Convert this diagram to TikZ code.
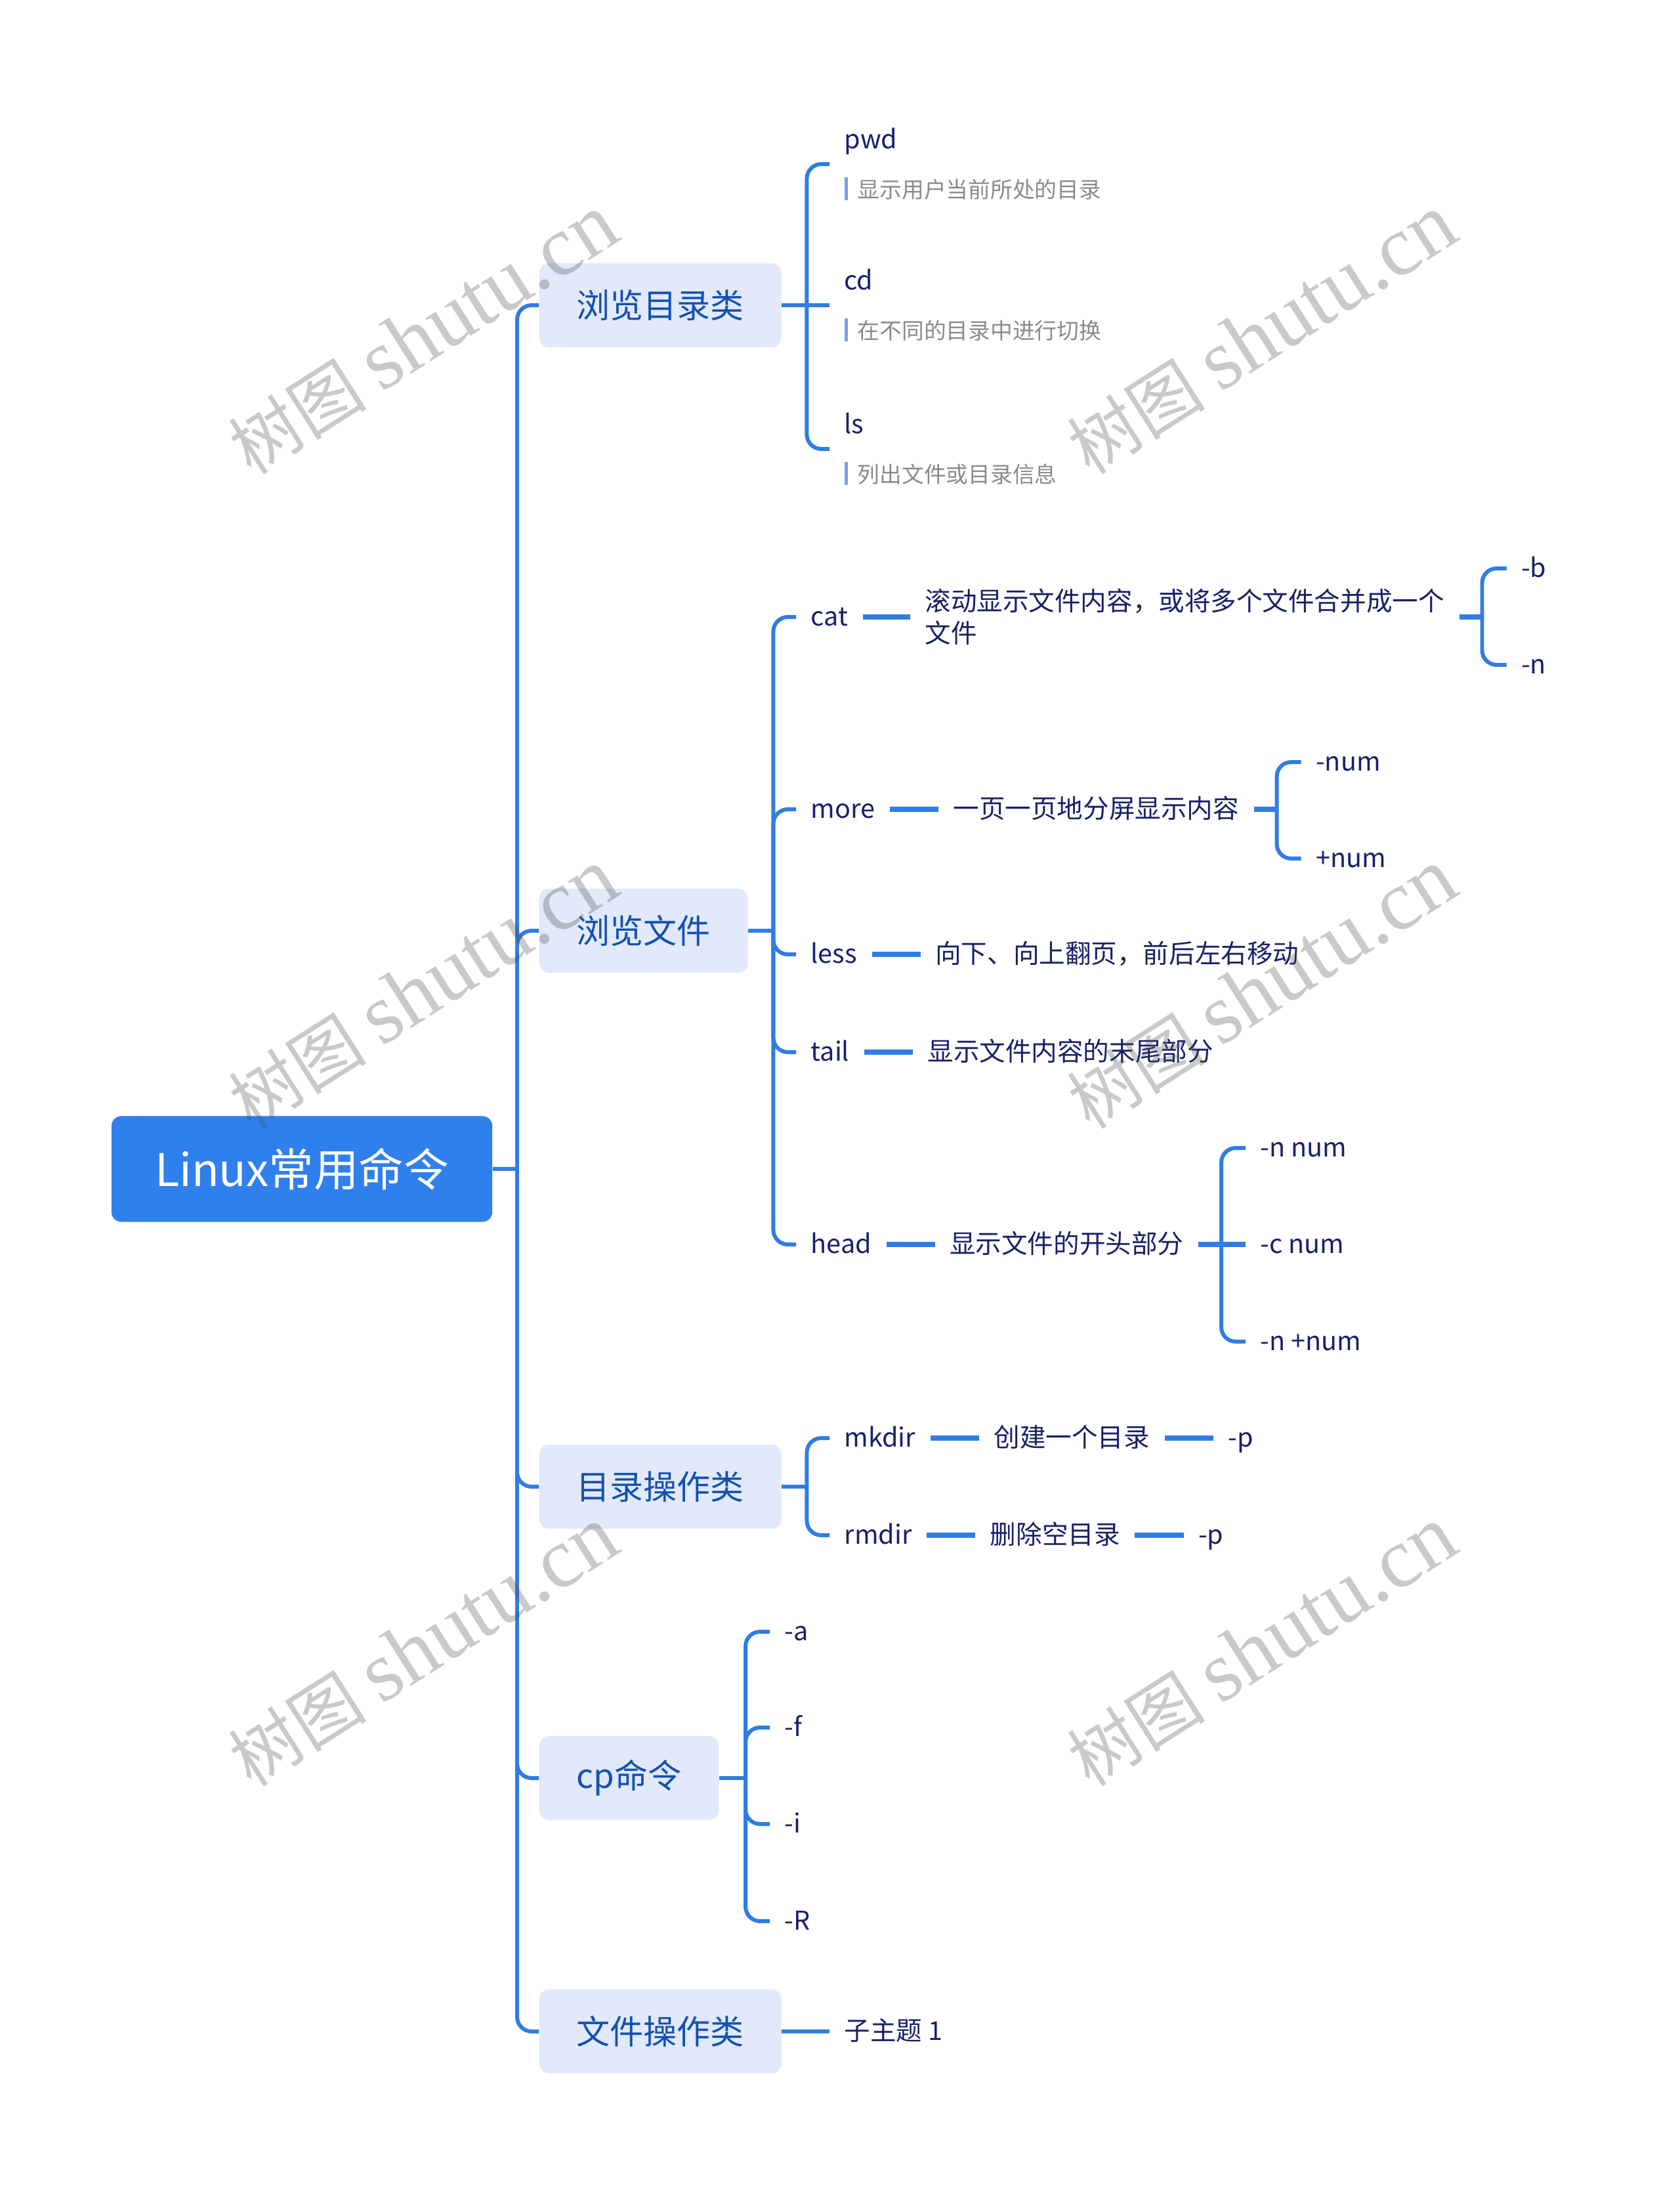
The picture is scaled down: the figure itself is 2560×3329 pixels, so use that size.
\documentclass[tikz,border=0pt]{standalone}
\usepackage{fontspec}
\setmainfont{Noto Sans CJK SC}
\newfontfamily\wmserif{Liberation Serif}
\usetikzlibrary{positioning,calc}
\definecolor{linkblue}{RGB}{48,124,228}
\definecolor{rootblue}{RGB}{47,128,237}
\definecolor{topicbg}{RGB}{225,233,250}
\definecolor{topictext}{RGB}{20,80,178}
\definecolor{leaftext}{RGB}{24,32,104}
\definecolor{notegray}{RGB}{138,138,138}
\definecolor{notebar}{RGB}{128,160,228}
\newcommand{\notetxt}[1]{{\fontsize{9.6pt}{11pt}\selectfont\textcolor{notebar}{\rule[-0.12em]{1.4pt}{1.05em}}\hspace{0.45em}\textcolor{notegray}{#1}}}
\tikzset{
	rootbox/.style={fill=rootblue, text=white, rounded corners=0.15cm, minimum width=5.8cm, minimum height=1.61cm, font=\fontsize{19.5pt}{22pt}\selectfont},
	topic/.style={fill=topicbg, text=topictext, rounded corners=0.15cm, minimum height=1.28cm, inner xsep=0.57cm, font=\fontsize{14.5pt}{17pt}\selectfont, anchor=west},
	leaf/.style={text=leaftext, inner xsep=0.22cm, inner ysep=0.05cm, font=\fontsize{11.25pt}{14pt}\selectfont, text height=0.95em, text depth=0.16em},
	leafm/.style={leaf, text height=, text depth=, align=left},
	link/.style={draw=linkblue, line width=1.7pt, rounded corners=0.22cm},
	chain/.style={draw=linkblue, line width=2.4pt},
	wm/.style={text=black!70, text opacity=0.3, rotate=32.5, font=\fontsize{30pt}{34pt}\selectfont},
}
\begin{document}
\begin{tikzpicture}[x=0.01cm, y=-0.01cm, line join=round]
	\useasboundingbox (0,0) rectangle (2560,3329);
	% root and main topics
	\node[rootbox] (root) at (460,1781) {Linux常用命令};
	\coordinate (rf) at (788,1781);
	\node[topic] (b1) at (821,465) {浏览目录类};
	\node[topic] (b2) at (821,1418) {浏览文件};
	\node[topic] (b3) at (821,2265) {目录操作类};
	\node[topic] (b4) at (821,2709) {cp命令};
	\node[topic] (b5) at (821,3095) {文件操作类};
	\draw[link] (root.east) -- (rf);
	\foreach \b in {b1,b2,b3,b4,b5}
		\draw[link] (rf) |- (\b.west);
	% 浏览目录类
	\coordinate (f1) at ($(b1.east)+(38,0)$);
	\node[leafm, anchor=west] (pwd) at (1264,250) {pwd\\[0.26cm]\notetxt{显示用户当前所处的目录}};
	\node[leafm, anchor=west] (cd) at (1264,465) {cd\\[0.26cm]\notetxt{在不同的目录中进行切换}};
	\node[leafm, anchor=west] (ls) at (1264,684) {ls\\[0.26cm]\notetxt{列出文件或目录信息}};
	\draw[link] (b1.east) -- (cd.west);
	\foreach \c in {pwd,ls}
		\draw[link] (f1) |- (\c.west);
	% 浏览文件
	\coordinate (f2) at ($(b2.east)+(38,0)$);
	\node[leaf, anchor=west] (cat) at (1213,940) {cat};
	\node[leafm, right=0.72cm of cat] (catd) {滚动显示文件内容，或将多个文件合并成一个\\文件};
	\coordinate (catf) at ($(catd.east)+(35,0)$);
	\node[leaf, anchor=west] (catb) at ($(catf)+(37,-74)$) {-b};
	\node[leaf, anchor=west] (catn) at ($(catf)+(37,73)$) {-n};
	\node[leaf, anchor=west] (more) at (1213,1233) {more};
	\node[leaf, right=0.74cm of more] (mored) {一页一页地分屏显示内容};
	\coordinate (moref) at ($(mored.east)+(35,0)$);
	\node[leaf, anchor=west] (moren) at ($(moref)+(37,-72)$) {-num};
	\node[leaf, anchor=west] (morep) at ($(moref)+(37,75)$) {+num};
	\node[leaf, anchor=west] (less) at (1213,1454) {less};
	\node[leaf, right=0.74cm of less] (lessd) {向下、向上翻页，前后左右移动};
	\node[leaf, anchor=west] (tail) at (1213,1603) {tail};
	\node[leaf, right=0.74cm of tail] (taild) {显示文件内容的末尾部分};
	\node[leaf, anchor=west] (head) at (1213,1896) {head};
	\node[leaf, right=0.74cm of head] (headd) {显示文件的开头部分};
	\coordinate (headf) at ($(headd.east)+(35,0)$);
	\node[leaf, anchor=west] (headn) at ($(headf)+(37,-147)$) {-n num};
	\node[leaf, anchor=west] (headc) at ($(headf)+(37,0)$) {-c num};
	\node[leaf, anchor=west] (headp) at ($(headf)+(37,148)$) {-n +num};
	\draw[link] (b2.east) -- (f2);
	\foreach \c in {cat,more,less,tail,head}
		\draw[link] (f2) |- (\c.west);
	\draw[chain] (cat) -- (catd);
	\draw[chain] (catd) -- (catf);
	\foreach \c in {catb,catn}
		\draw[link] (catf) |- (\c.west);
	\draw[chain] (more) -- (mored);
	\draw[chain] (mored) -- (moref);
	\foreach \c in {moren,morep}
		\draw[link] (moref) |- (\c.west);
	\draw[chain] (less) -- (lessd);
	\draw[chain] (tail) -- (taild);
	\draw[chain] (head) -- (headd);
	\draw[chain] (headd) -- (headc);
	\foreach \c in {headn,headp}
		\draw[link] (headf) |- (\c.west);
	% 目录操作类
	\coordinate (f3) at ($(b3.east)+(38,0)$);
	\node[leaf, anchor=west] (mkdir) at (1264,2191) {mkdir};
	\node[leaf, right=0.74cm of mkdir] (mkdird) {创建一个目录};
	\node[leaf, right=0.74cm of mkdird] (mkdirp) {-p};
	\node[leaf, anchor=west] (rmdir) at (1264,2339) {rmdir};
	\node[leaf, right=0.74cm of rmdir] (rmdird) {删除空目录};
	\node[leaf, right=0.74cm of rmdird] (rmdirp) {-p};
	\draw[link] (b3.east) -- (f3);
	\foreach \c in {mkdir,rmdir}
		\draw[link] (f3) |- (\c.west);
	\draw[chain] (mkdir) -- (mkdird);
	\draw[chain] (mkdird) -- (mkdirp);
	\draw[chain] (rmdir) -- (rmdird);
	\draw[chain] (rmdird) -- (rmdirp);
	% cp命令
	\coordinate (f4) at ($(b4.east)+(40,0)$);
	\node[leaf, anchor=west] (cpa) at (1173,2486) {-a};
	\node[leaf, anchor=west] (cpf) at (1173,2632) {-f};
	\node[leaf, anchor=west] (cpi) at (1173,2779) {-i};
	\node[leaf, anchor=west] (cpr) at (1173,2927) {-R};
	\draw[link] (b4.east) -- (f4);
	\foreach \c in {cpa,cpf,cpi,cpr}
		\draw[link] (f4) |- (\c.west);
	% 文件操作类
	\node[leaf, anchor=west] (sub1) at (1264,3095) {子主题 1};
	\draw[link] (b5) -- (sub1);
	% watermarks
	\foreach \wx in {645,1923}
		\foreach \wy in {510,1507,2509}
			\node[wm] (wm-\wx-\wy) at (\wx,\wy) {树图 {\wmserif\fontsize{37pt}{40pt}\selectfont shutu.cn}};
\end{tikzpicture}
\end{document}
